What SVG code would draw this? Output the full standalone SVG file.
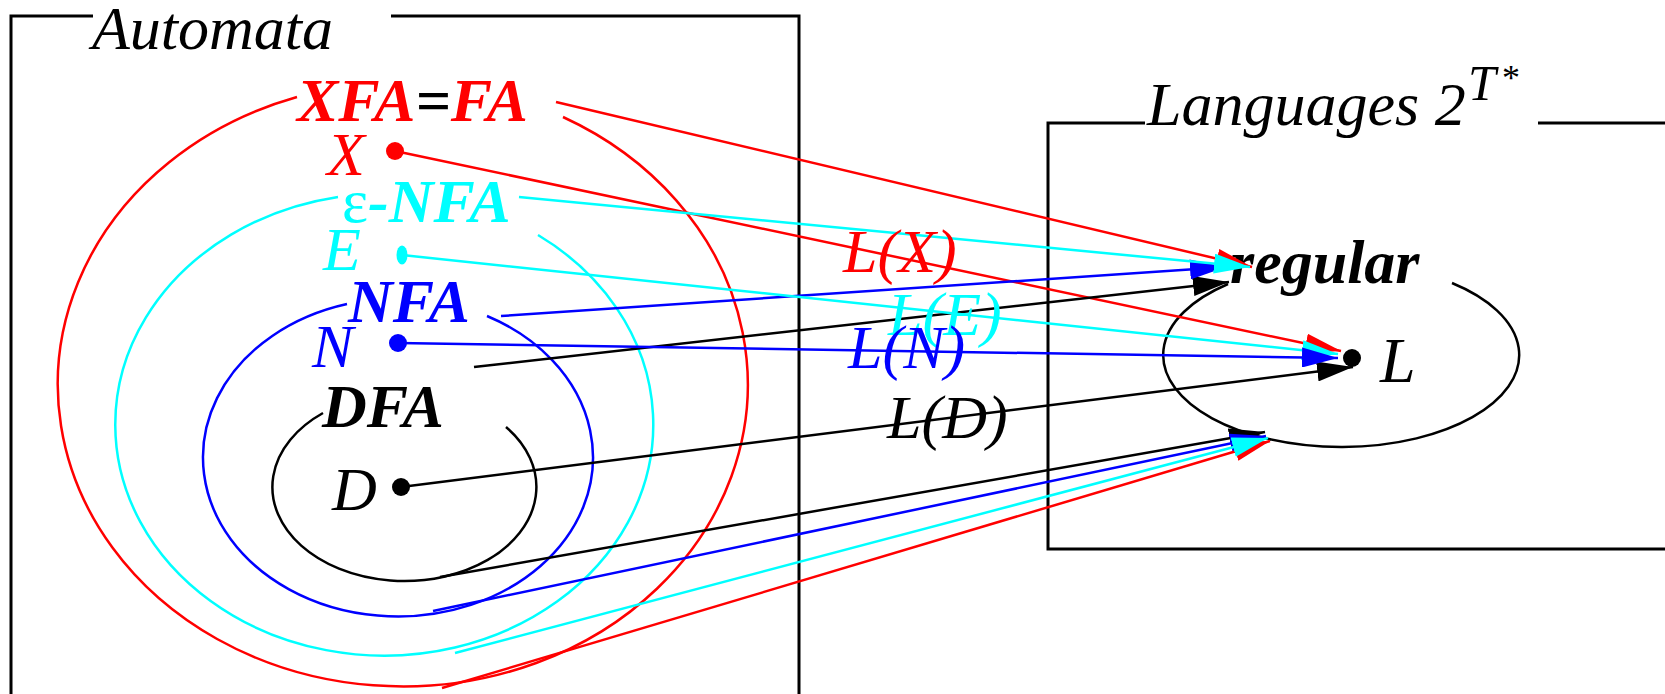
<svg xmlns="http://www.w3.org/2000/svg" width="1665" height="694" viewBox="0 0 1665 694">
<style>
text{font-family:"Liberation Serif","Times New Roman",serif;font-size:62px;font-style:italic}
.b{font-weight:bold}
.frame{fill:none;stroke:#000;stroke-width:3}
.set{fill:none;stroke-width:2.5}
.con{fill:none;stroke-width:2.5}
.red{stroke:#ff0000}.cyan{stroke:#00ffff}.blue{stroke:#0000ff}.blk{stroke:#000}
</style>
<defs>
<marker id="hr" markerUnits="userSpaceOnUse" markerWidth="36" markerHeight="20" refX="36" refY="10" orient="auto"><path d="M0,0 L36,10 L0,20 z" fill="#ff0000"/></marker>
<marker id="hc" markerUnits="userSpaceOnUse" markerWidth="36" markerHeight="20" refX="36" refY="10" orient="auto"><path d="M0,0 L36,10 L0,20 z" fill="#00ffff"/></marker>
<marker id="hb" markerUnits="userSpaceOnUse" markerWidth="36" markerHeight="20" refX="36" refY="10" orient="auto"><path d="M0,0 L36,10 L0,20 z" fill="#0000ff"/></marker>
<marker id="hk" markerUnits="userSpaceOnUse" markerWidth="36" markerHeight="20" refX="36" refY="10" orient="auto"><path d="M0,0 L36,10 L0,20 z" fill="#000"/></marker>
</defs>
<rect width="1665" height="694" fill="#fff"/>

<g id="automata">
<path class="frame" d="M93,16 H11 V694 M391,16 H799 V694"/>
<text x="92" y="49">Automata</text>
</g>

<g id="languages">
<path class="frame" d="M1145,123 H1048 V549 H1665 M1538,123 H1665"/>
<text x="1147" y="125">Languages 2</text>
<text x="1468" y="100" style="font-size:50px">T</text>
<text x="1502" y="90" style="font-size:36px;font-style:normal">*</text>
</g>

<g id="fa">
<path class="set red" d="M297,97 A345 302 0 1 0 563,117"/>
<text class="b" x="297" y="121" fill="#ff0000">XFA<tspan fill="#000">=</tspan>FA</text>
</g>

<g id="enfa">
<path class="set cyan" d="M338,197 A269 231 0 1 0 538,235"/>
<text class="b" x="342" y="222" fill="#00ffff"><tspan style="font-weight:normal;font-style:normal">ε</tspan>-NFA</text>
</g>

<g id="nfa">
<path class="set blue" d="M347,304 A195 159 0 1 0 487,316"/>
<text class="b" x="348" y="322" fill="#0000ff">NFA</text>
</g>

<g id="dfa">
<path class="set blk" d="M323,413 A132 94 0 1 0 506,427"/>
<text class="b" x="322" y="427" fill="#000">DFA</text>
</g>

<g id="regular">
<path class="set blk" d="M1452,283 A178 92 0 1 1 1228,284"/>
<text class="b" x="1230" y="283">regular</text>
</g>

<g id="connectors">
<path class="con red" d="M556,102 L1252,267" marker-end="url(#hr)"/>
<path class="con red" d="M395,151 L1341,351" marker-end="url(#hr)"/>
<path class="con blk" d="M474,367 L1229,282" marker-end="url(#hk)"/>
<path class="con blk" d="M401,487 L1353,367" marker-end="url(#hk)"/>
<path class="con blk" d="M440,577 L1265,432" marker-end="url(#hk)"/>
<path class="con blue" d="M501,316 L1226,267" marker-end="url(#hb)"/>
<path class="con cyan" d="M519,197 L1250,267" marker-end="url(#hc)"/>
<path class="con cyan" d="M402,255 L1338,354" marker-end="url(#hc)"/>
<path class="con blue" d="M398,343 L1338,358" marker-end="url(#hb)"/>
<path class="con blue" d="M433,611 L1266,436" marker-end="url(#hb)"/>
<path class="con red" d="M442,688 L1270,441" marker-end="url(#hr)"/>
<path class="con cyan" d="M455,653 L1268,438" marker-end="url(#hc)"/>
</g>

<g id="X">
<text x="327" y="175" fill="#ff0000">X</text>
<circle cx="395" cy="151" r="9" fill="#ff0000"/>
</g>
<g id="E">
<text x="323" y="270" fill="#00ffff">E</text>
<ellipse cx="402" cy="255" rx="5.5" ry="9.5" fill="#00ffff"/>
</g>
<g id="N">
<text x="312" y="367" fill="#0000ff">N</text>
<circle cx="398" cy="343" r="9" fill="#0000ff"/>
</g>
<g id="D">
<text x="332" y="510" fill="#000">D</text>
<circle cx="401" cy="487" r="9" fill="#000"/>
</g>
<g id="L">
<text x="1380" y="382" style="font-size:64px">L</text>
<circle cx="1352" cy="358" r="9" fill="#000"/>
</g>

<g id="labels">
<text x="843" y="272" fill="#ff0000">L(X)</text>
<text x="888" y="335" fill="#00ffff">L(E)</text>
<text x="848" y="368" fill="#0000ff">L(N)</text>
<text x="887" y="438" fill="#000">L(D)</text>
</g>
</svg>
